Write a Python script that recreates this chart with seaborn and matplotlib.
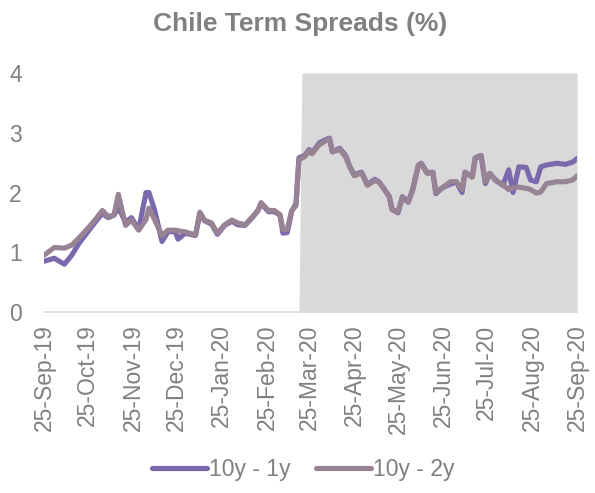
import pandas as pd
import matplotlib.pyplot as plt
import seaborn as sns

dates = ["2019-09-25", "2019-10-02", "2019-10-09", "2019-10-14", "2019-10-19", "2019-10-25",
         "2019-10-30", "2019-11-04", "2019-11-08", "2019-11-12", "2019-11-15", "2019-11-20",
         "2019-11-24", "2019-11-29", "2019-12-04", "2019-12-06", "2019-12-10", "2019-12-15",
         "2019-12-19", "2019-12-24", "2019-12-26", "2019-12-31", "2020-01-07", "2020-01-10",
         "2020-01-13", "2020-01-18", "2020-01-22", "2020-01-27", "2020-02-01", "2020-02-05",
         "2020-02-10", "2020-02-15", "2020-02-19", "2020-02-21", "2020-02-26", "2020-03-01",
         "2020-03-05", "2020-03-07", "2020-03-10", "2020-03-13", "2020-03-16", "2020-03-18",
         "2020-03-22", "2020-03-25", "2020-03-27", "2020-04-01", "2020-04-05", "2020-04-08",
         "2020-04-10", "2020-04-15", "2020-04-19", "2020-04-22", "2020-04-25", "2020-04-30",
         "2020-05-04", "2020-05-09", "2020-05-12", "2020-05-16", "2020-05-19", "2020-05-21",
         "2020-05-25", "2020-05-28", "2020-06-01", "2020-06-04", "2020-06-08", "2020-06-10",
         "2020-06-14", "2020-06-18", "2020-06-20", "2020-06-25", "2020-06-30", "2020-07-04",
         "2020-07-08", "2020-07-10", "2020-07-15", "2020-07-17", "2020-07-21", "2020-07-24",
         "2020-07-27", "2020-07-31", "2020-08-05", "2020-08-09", "2020-08-12", "2020-08-16",
         "2020-08-21", "2020-08-24", "2020-08-28", "2020-08-31", "2020-09-04", "2020-09-11",
         "2020-09-17", "2020-09-22", "2020-09-25"]

spread_10y_1y = [0.85, 0.90, 0.80, 0.95, 1.15, 1.34, 1.50, 1.65, 1.58, 1.62, 1.75, 1.50,
                 1.58, 1.38, 2.00, 2.00, 1.70, 1.18, 1.34, 1.35, 1.22, 1.32, 1.28, 1.66,
                 1.53, 1.47, 1.30, 1.45, 1.52, 1.46, 1.45, 1.58, 1.70, 1.82, 1.68, 1.68,
                 1.62, 1.32, 1.33, 1.68, 1.82, 2.58, 2.62, 2.72, 2.66, 2.83, 2.88, 2.91,
                 2.68, 2.74, 2.62, 2.43, 2.30, 2.34, 2.13, 2.22, 2.18, 2.04, 1.93, 1.72,
                 1.66, 1.93, 1.84, 2.04, 2.46, 2.49, 2.33, 2.34, 1.98, 2.09, 2.14, 2.18,
                 2.00, 2.34, 2.26, 2.58, 2.62, 2.15, 2.32, 2.21, 2.12, 2.38, 2.00, 2.43,
                 2.42, 2.21, 2.18, 2.43, 2.46, 2.49, 2.47, 2.51, 2.57]

spread_10y_2y = [0.95, 1.08, 1.07, 1.12, 1.24, 1.40, 1.54, 1.70, 1.60, 1.62, 1.97, 1.45,
                 1.54, 1.37, 1.55, 1.74, 1.54, 1.28, 1.37, 1.37, 1.36, 1.34, 1.29, 1.67,
                 1.54, 1.49, 1.32, 1.46, 1.54, 1.49, 1.46, 1.59, 1.71, 1.83, 1.70, 1.70,
                 1.63, 1.38, 1.38, 1.70, 1.78, 2.55, 2.60, 2.70, 2.65, 2.80, 2.86, 2.90,
                 2.68, 2.72, 2.60, 2.42, 2.28, 2.33, 2.12, 2.20, 2.17, 2.04, 1.93, 1.71,
                 1.67, 1.92, 1.84, 2.04, 2.45, 2.48, 2.32, 2.33, 2.00, 2.09, 2.18, 2.18,
                 2.05, 2.33, 2.26, 2.57, 2.62, 2.18, 2.32, 2.20, 2.13, 2.05, 2.08, 2.09,
                 2.07, 2.05, 1.99, 2.01, 2.15, 2.18, 2.18, 2.21, 2.28]

shade_dates = ["2020-03-18", "2020-03-20", "2020-09-25"]
shade_values = [0, 4, 4]

tick_dates = ["2019-09-25", "2019-10-25", "2019-11-25", "2019-12-25", "2020-01-25",
              "2020-02-25", "2020-03-25", "2020-04-25", "2020-05-25", "2020-06-25",
              "2020-07-25", "2020-08-25", "2020-09-25"]
tick_labels = ["25-Sep-19", "25-Oct-19", "25-Nov-19", "25-Dec-19", "25-Jan-20", "25-Feb-20",
               "25-Mar-20", "25-Apr-20", "25-May-20", "25-Jun-20", "25-Jul-20", "25-Aug-20",
               "25-Sep-20"]

df = pd.DataFrame({"date": pd.to_datetime(dates),
                   "10y - 1y": spread_10y_1y,
                   "10y - 2y": spread_10y_2y})
long = df.melt(id_vars="date", var_name="series", value_name="value")

sns.set_style("white")
plt.rcParams["font.family"] = ["Liberation Sans", "DejaVu Sans"]
grey = "#808080"

fig = plt.figure(figsize=(5.95, 4.93), dpi=100)
ax = fig.add_axes([0.074, 0.367, 0.896, 0.485])

# shaded period (covid)
ax.fill_between(pd.to_datetime(shade_dates), shade_values, color="#d9d9d9", lw=0, zorder=0)

sns.lineplot(data=long, x="date", y="value", hue="series",
             palette={"10y - 1y": "#7a69ad", "10y - 2y": "#978393"},
             linewidth=3.7, ax=ax, zorder=2)

ax.set_xlim(pd.Timestamp("2019-09-25"), pd.Timestamp("2020-09-25"))
ax.set_ylim(0, 4)
ax.set_yticks([0, 1, 2, 3, 4])
ax.set_xticks(pd.to_datetime(tick_dates))
ax.set_xticklabels(tick_labels, rotation=90)
ax.set_xlabel("")
ax.set_ylabel("")

for side in ["top", "right", "left"]:
    ax.spines[side].set_visible(False)
ax.spines["bottom"].set_color("#d9d9d9")
ax.spines["bottom"].set_linewidth(1.2)
ax.tick_params(axis="x", colors=grey, labelsize=16.5, length=5, width=1.2, color="#d9d9d9", pad=4)
ax.tick_params(axis="y", colors=grey, labelsize=16.5, length=0, pad=16)

fig.suptitle("Chile Term Spreads (%)", x=0.505, y=0.975, fontsize=19,
             fontweight="bold", color=grey)

handles, labels = ax.get_legend_handles_labels()
ax.legend(handles, labels, loc="center", bbox_to_anchor=(0.486, -0.66), ncol=2,
          frameon=False, fontsize=16.5, labelcolor=grey, handlelength=2.4,
          handletextpad=0.1, columnspacing=1.1)

fig.savefig("out.png", dpi=100)
